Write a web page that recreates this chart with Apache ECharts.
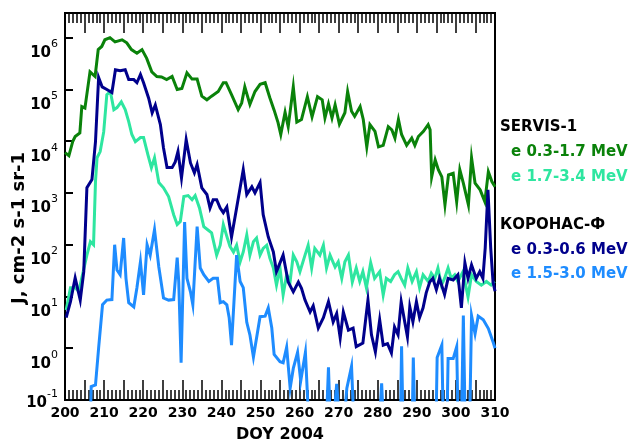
<!DOCTYPE html>
<html>
<head>
<meta charset="utf-8">
<script src="https://cdn.jsdelivr.net/npm/echarts@6/dist/echarts.min.js"></script>
<style>
  html, body { margin: 0; padding: 0; background: #fff; }
  #chart { width: 628px; height: 441px; }
</style>
</head>
<body>
<div id="chart"></div>
<script>
// readings taken off the log plot: [day of year, log10(J)]
// values well below 10^-1 are written as -2 (line leaves the frame)
const servisLow = [
  [200, 3.78], [201, 3.72], [202, 4.0], [202.6, 4.09], [203.8, 4.16], [204.3, 4.67], [205.1, 4.64],
  [206.4, 5.34], [207.7, 5.25], [208.5, 5.77], [209.4, 5.83], [210.2, 5.96], [211.5, 6.0], [212.8, 5.92],
  [214.6, 5.96], [215.8, 5.9], [217, 5.77], [218.4, 5.7], [219.7, 5.77], [220.9, 5.6], [222.2, 5.34],
  [223.5, 5.25], [224.7, 5.24], [226, 5.19], [227.4, 5.25], [228.7, 5.0], [229.9, 5.02], [231.2, 5.32],
  [232.5, 5.2], [233.8, 5.2], [235, 4.87], [236.3, 4.8], [237.5, 4.87], [239.2, 4.96], [240.5, 5.13],
  [241.2, 5.13], [242.6, 4.9], [244.3, 4.61], [245.2, 4.74], [246, 5.05], [247.3, 4.71], [248.6, 4.96],
  [249.9, 5.1], [251.2, 5.13], [252.4, 4.84], [253.5, 4.6], [254.5, 4.36], [255.2, 4.13], [256.3, 4.56],
  [257.1, 4.28], [258.4, 5.05], [259.3, 4.37], [260.5, 4.42], [262, 4.86], [263.2, 4.47], [264.6, 4.86],
  [265.8, 4.8], [266.5, 4.45], [267.4, 4.72], [268.3, 4.45], [269.1, 4.7], [270.2, 4.33], [271.6, 4.55],
  [272.3, 4.96], [273.3, 4.58], [274.1, 4.48], [275.5, 4.67], [276.3, 4.42], [277.2, 3.89], [278, 4.32],
  [279.3, 4.19], [280.2, 3.89], [281.4, 3.92], [282.7, 4.28], [283.6, 4.22], [284.4, 4.06], [285.3, 4.42],
  [286.1, 4.13], [287.4, 3.92], [288.7, 4.06], [289.5, 3.92], [290.4, 4.09], [291.7, 4.19], [292.9, 4.32],
  [293.4, 4.22], [293.8, 3.31], [294.7, 3.64], [295.5, 3.45], [296.4, 3.31], [297.2, 2.77], [298.1, 3.35],
  [299.3, 3.38], [300.2, 2.83], [301, 3.45], [301.9, 3.19], [303.2, 2.77], [304, 3.68], [304.9, 3.19],
  [306.2, 3.06], [307.4, 2.83], [308.3, 3.41], [309.2, 3.22], [310, 3.12]
];

const servisHigh = [
  [200.3, 0.74], [201.4, 1.17], [202.6, 1.17], [203.5, 1.1], [204.3, 1.36], [205.6, 1.8], [206.5, 2.06],
  [207.3, 2.0], [207.8, 3.22], [208.2, 3.68], [209, 3.8], [209.9, 4.18], [210.7, 4.9], [211.6, 4.96],
  [212.5, 4.61], [213.3, 4.65], [214.4, 4.76], [215.4, 4.61], [216.3, 4.38], [217.1, 4.13], [218, 3.99],
  [219.3, 4.07], [220.1, 4.07], [221.2, 3.74], [222.1, 3.49], [222.9, 3.68], [224, 3.2], [225.2, 3.1],
  [226.5, 2.93], [227.8, 2.58], [228.7, 2.39], [229.5, 2.45], [230.4, 2.93], [231.5, 2.95], [232.5, 2.87],
  [233.3, 2.95], [234.4, 2.71], [235.5, 2.35], [236.5, 2.29], [237.5, 2.23], [238.8, 1.8], [239.7, 1.99],
  [240.5, 2.39], [241.4, 2.16], [242.2, 1.97], [243.1, 1.86], [243.9, 1.99], [244.8, 1.67], [245.6, 1.86],
  [246.5, 2.19], [247.3, 1.8], [248.2, 2.06], [249, 2.13], [249.9, 1.8], [250.7, 1.93], [251.6, 1.99],
  [252.4, 1.74], [253.3, 1.55], [254.1, 1.22], [255, 1.55], [255.8, 1.03], [256.7, 1.42], [257.6, 1.3],
  [258.4, 1.8], [259.3, 1.67], [260.1, 1.48], [261.4, 1.8], [262.2, 1.99], [263.1, 1.55], [263.9, 1.93],
  [265.2, 1.8], [266.1, 1.99], [266.9, 1.55], [267.8, 1.8], [269.1, 1.57], [269.9, 1.67], [270.8, 1.35],
  [271.6, 1.67], [272.5, 1.8], [273.5, 1.28], [274.5, 1.55], [275.4, 1.29], [276.2, 1.48], [277.1, 1.17],
  [278.2, 1.65], [279.2, 1.35], [280.5, 1.48], [281.4, 1.03], [282.2, 1.35], [283.3, 1.29], [284.3, 1.42],
  [285.2, 1.48], [286, 1.35], [286.9, 1.22], [287.7, 1.55], [288.8, 1.29], [289.9, 1.48], [290.7, 1.17],
  [291.6, 1.42], [292.9, 1.29], [293.7, 1.45], [294.6, 1.35], [295.4, 1.55], [296.3, 1.22], [297.1, 1.35],
  [298, 1.55], [298.8, 1.35], [299.7, 1.42], [300.5, 1.29], [301.8, 1.48], [303.1, 0.99], [304, 1.42],
  [305.2, 1.29], [306.5, 1.22], [307.8, 1.29], [309, 1.22], [309.9, 1.29]
];

const coronasLow = [
  [200.3, 0.59], [201.4, 0.9], [202.6, 1.36], [203.9, 0.93], [204.8, 1.48], [205.6, 3.1], [206.9, 3.26],
  [207.8, 3.99], [208.6, 5.23], [209.5, 5.05], [210.7, 5.0], [212, 4.94], [212.9, 5.38], [214.1, 5.36],
  [215.4, 5.38], [216.3, 5.19], [217.6, 5.19], [218.4, 5.13], [219.3, 5.29], [220.1, 5.13], [221.4, 4.83],
  [222.3, 4.55], [223.1, 4.7], [224.4, 4.32], [225.2, 3.87], [226.1, 3.49], [227.4, 3.49], [228.2, 3.6],
  [228.9, 3.8], [229.8, 3.29], [231, 4.03], [232.1, 3.58], [233.1, 3.39], [233.8, 3.55], [235, 3.1],
  [236.3, 2.97], [237.1, 2.71], [237.9, 2.87], [238.8, 2.87], [239.7, 2.71], [240.5, 2.62], [241.4, 2.73],
  [242.6, 2.15], [243.9, 2.71], [244.8, 3.1], [245.6, 3.45], [246.5, 2.97], [247.8, 3.12], [248.6, 3.0],
  [249.9, 3.2], [250.7, 2.58], [252, 2.15], [253.3, 1.86], [254.1, 1.48], [255.8, 1.8], [257.1, 1.28],
  [258.4, 1.09], [259.7, 1.28], [260.5, 1.16], [261.4, 0.93], [262.7, 0.7], [263.5, 0.82], [264.8, 0.39],
  [266.1, 0.59], [267.4, 0.9], [268.6, 0.51], [269.5, 0.67], [270.4, 0.2], [271.2, 0.7], [272.5, 0.35],
  [273.7, 0.39], [274.5, 0.03], [276.2, 0.1], [277.5, 0.93], [278.4, 0.26], [279.4, -0.07], [280.5, 0.55],
  [281.4, 0.06], [282.5, 0.09], [283.5, -0.09], [284.3, 0.41], [285.2, 0.26], [286, 0.9], [286.9, 0.51],
  [287.6, 0.22], [288.2, 0.8], [289, 0.51], [289.9, 0.9], [290.7, 0.59], [291.6, 0.78], [292.4, 1.07],
  [293.3, 1.28], [294.1, 1.35], [295, 1.13], [295.8, 1.35], [297.1, 1.04], [298, 1.35], [299.3, 1.32],
  [300.5, 1.42], [301.4, 0.78], [302.3, 1.65], [303.1, 1.35], [304, 1.61], [305.2, 1.35], [306.1, 1.48],
  [306.9, 1.35], [307.5, 1.94], [308.2, 3.06], [308.9, 1.94], [309.5, 1.28], [310, 1.1]
];

const coronasHigh = [
  [206.3, -2], [206.7, -0.74], [207.8, -0.71], [208.6, 0.0], [209.6, 0.84], [210.7, 0.93], [212, 0.94],
  [212.7, 2.0], [213.3, 1.51], [214.1, 1.42], [215, 2.13], [215.6, 1.35], [216.3, 0.88], [217.6, 0.8],
  [218.4, 1.17], [219.3, 1.67], [220.1, 1.03], [221, 2.0], [221.8, 1.8], [222.9, 2.29], [224, 1.57],
  [225.2, 0.97], [226.5, 0.93], [227.8, 0.94], [228.7, 1.75], [229.1, 1.28], [229.7, -0.28], [230.6, 2.44],
  [231.2, 1.35], [232.1, 1.09], [232.7, 0.84], [233.8, 2.35], [234.6, 1.55], [235.5, 1.42], [236.8, 1.29],
  [237.9, 1.35], [239, 1.35], [239.7, 0.88], [240.5, 0.9], [241.4, 0.84], [242, 0.59], [242.6, 0.06],
  [243.9, 1.8], [244.8, 1.29], [245.6, 1.17], [246.5, 0.5], [247.3, 0.26], [248.2, -0.17], [249.9, 0.61],
  [251.2, 0.62], [252, 0.78], [252.9, 0.39], [253.5, -0.12], [255, -0.26], [255.8, -0.28], [256.7, 0.02],
  [257.6, -0.77], [258.4, -0.39], [259.5, -0.08], [260.3, -0.63], [261.5, -0.08], [262.4, -1.5], [263.2, -2],
  [266.6, -2], [267.4, -0.37], [268.1, -2], [269.5, -0.69], [270.8, -2], [272.1, -0.77], [273.3, -0.35],
  [274.2, -2], [280, -2], [281, -0.68], [281.8, -2], [285.7, -2], [286.1, 0.04], [286.6, -2], [288.7, -2],
  [289.1, -0.18], [289.7, -2], [294.8, -2], [295.2, -0.18], [296.4, 0.06], [296.9, -2], [297.6, -2],
  [298, -0.2], [299.3, -0.2], [300.2, 0.03], [300.7, -2], [301.3, -2], [301.9, 0.63], [302.5, -2],
  [303.4, -2], [304, 0.63], [304.9, 0.28], [305.7, 0.62], [307, 0.55], [308.3, 0.38], [309.6, 0.1], [310, 0.0]
];

const legendLines = [
  { text: 'SERVIS-1', color: '#000000', x: 500, y: 127 },
  { text: 'e 0.3-1.7 MeV', color: '#0a820a', x: 511, y: 152 },
  { text: 'e 1.7-3.4 MeV', color: '#2ee6a0', x: 511, y: 177 },
  { text: 'КОРОНАС-Ф', color: '#000000', x: 500, y: 225 },
  { text: 'e 0.3-0.6 MeV', color: '#00008c', x: 511, y: 250 },
  { text: 'e 1.5-3.0 MeV', color: '#1e8cff', x: 511, y: 274 }
];

const FONT = 'DejaVu Sans';

const toPoints = (pairs) => pairs.map(p => [p[0], Math.pow(10, p[1])]);

const lineSeries = (name, pairs, color) => ({
  name: name,
  type: 'line',
  showSymbol: false,
  symbol: 'none',
  clip: true,
  animation: false,
  lineStyle: { color: color, width: 3, join: 'miter' },
  data: toPoints(pairs)
});

const xTicks = (showLabel) => ({
  type: 'value',
  min: 200,
  max: 310,
  interval: 5,
  axisLine: { show: true, onZero: false, lineStyle: { color: '#000', width: 2 } },
  axisTick: { show: true, inside: true, length: 20, lineStyle: { color: '#000', width: 1.5 } },
  minorTick: { show: true, splitNumber: 5, length: 10, lineStyle: { color: '#000', width: 1.5 } },
  splitLine: { show: false },
  axisLabel: {
    show: showLabel,
    color: '#000',
    fontFamily: FONT,
    fontWeight: 'bold',
    fontSize: 14,
    margin: 6,
    formatter: v => (v % 10 === 0 ? String(v) : '')
  }
});

const chart = echarts.init(document.getElementById('chart'), null, { renderer: 'canvas' });

chart.setOption({
  backgroundColor: '#fff',
  animation: false,
  grid: {
    left: 65, right: 133, top: 13, bottom: 41,
    outerBoundsMode: 'none',
    show: true, borderColor: '#000', borderWidth: 2
  },
  xAxis: [
    Object.assign(xTicks(true), {
      position: 'bottom',
      name: 'DOY 2004',
      nameLocation: 'middle',
      nameGap: 27,
      nameTextStyle: { color: '#000', fontFamily: FONT, fontWeight: 'bold', fontSize: 16 }
    }),
    Object.assign(xTicks(false), { position: 'top' })
  ],
  yAxis: {
    type: 'log',
    logBase: 10,
    min: 0.1,
    max: 3e6,
    axisLine: { show: true, lineStyle: { color: '#000', width: 2 } },
    axisTick: { show: true, inside: true, length: 8, lineStyle: { color: '#000', width: 2 } },
    splitLine: { show: false },
    axisLabel: {
      color: '#000',
      margin: 7,
      showMaxLabel: false,
      formatter: v => {
        const e = Math.round(Math.log10(v));
        // the lowest label sits higher so it clears the day numbers
        return e < 0 ? '{b|10}{t|' + e + '}' : '{b|10}{s|' + e + '}';
      },
      rich: {
        b: { fontFamily: FONT, fontWeight: 'bold', fontSize: 15, color: '#000', verticalAlign: 'bottom' },
        s: { fontFamily: FONT, fontSize: 11, color: '#000', verticalAlign: 'bottom', padding: [24, 0, 11, 0] },
        t: { fontFamily: FONT, fontSize: 11, color: '#000', verticalAlign: 'bottom', padding: [0, 0, 11, 0] }
      }
    }
  },
  series: [
    lineSeries('SERVIS-1 e 0.3-1.7 MeV', servisLow, '#0a820a'),
    lineSeries('SERVIS-1 e 1.7-3.4 MeV', servisHigh, '#2ee6a0'),
    lineSeries('КОРОНАС-Ф e 0.3-0.6 MeV', coronasLow, '#00008c'),
    lineSeries('КОРОНАС-Ф e 1.5-3.0 MeV', coronasHigh, '#1e8cff')
  ],
  graphic: [{
    type: 'text',
    x: 19,
    y: 228,
    rotation: Math.PI / 2,
    style: {
      text: 'J, cm-2 s-1 sr-1',
      fill: '#000',
      font: 'bold 18px "' + FONT + '"',
      align: 'center',
      verticalAlign: 'middle'
    }
  }].concat(legendLines.map(l => ({
    type: 'text',
    x: l.x,
    y: l.y,
    style: {
      text: l.text,
      fill: l.color,
      font: 'bold 15px "' + FONT + '"',
      verticalAlign: 'middle'
    }
  })))
});
</script>
</body>
</html>
